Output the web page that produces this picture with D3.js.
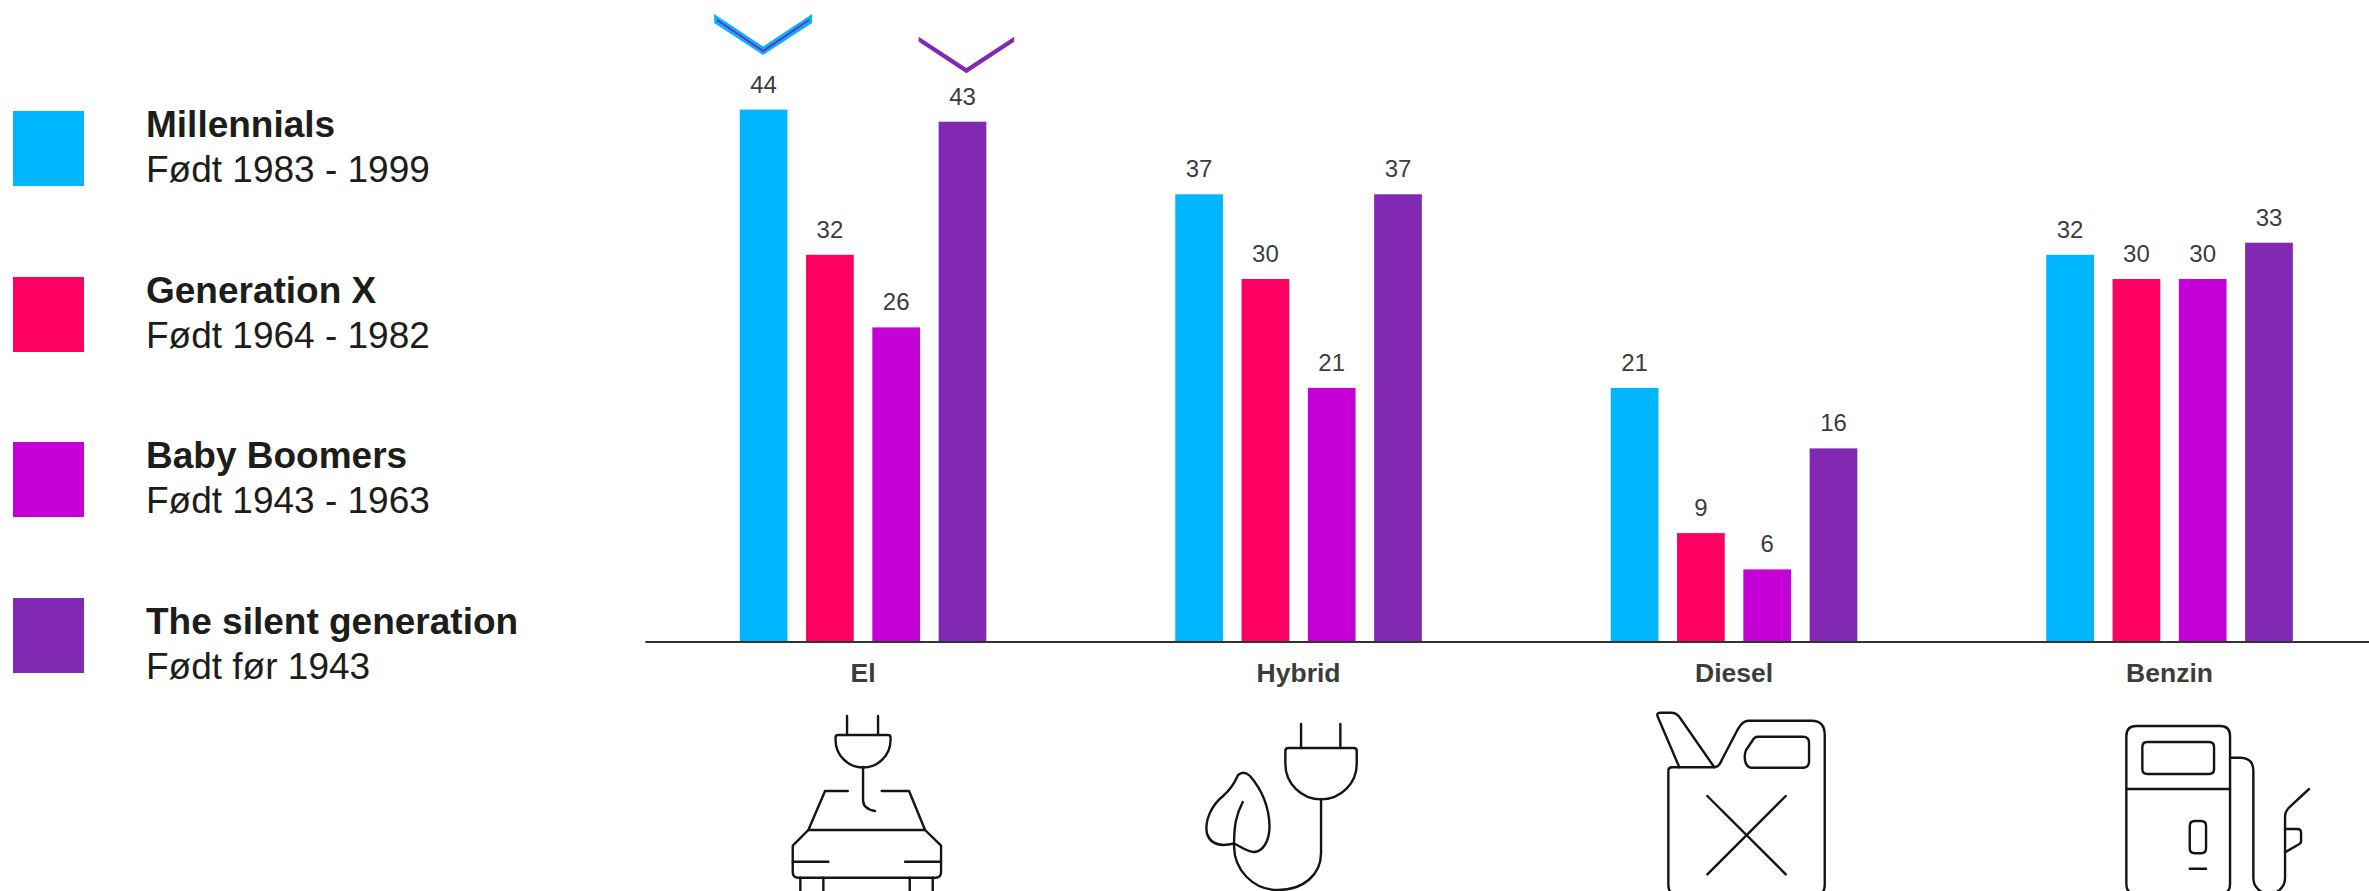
<!DOCTYPE html>
<html lang="da">
<head>
<meta charset="utf-8">
<title>Generationer og drivmidler</title>
<script src="https://cdnjs.cloudflare.com/ajax/libs/d3/7.9.0/d3.min.js"></script>
<style>
  html, body { margin: 0; padding: 0; background: #fff; overflow: hidden; }
  svg { display: block; font-family: "Liberation Sans", Arial, sans-serif; }
  .icon path, .icon rect { fill: none; stroke: #141414; stroke-width: 2.4; stroke-linecap: round; stroke-linejoin: round; }
</style>
</head>
<body>
<svg id="chart" width="2369" height="891"></svg>
<script>
// Fuel types along the axis and the four generations
const categories = ["El", "Hybrid", "Diesel", "Benzin"];
const generations = ["Millennials", "Generation X", "Baby Boomers", "The silent generation"];
const birthYears = ["Født 1983 - 1999", "Født 1964 - 1982", "Født 1943 - 1963", "Født før 1943"];
const colors = ["#00b6ff", "#ff0062", "#c400d6", "#8229b3"];

// Share per generation, one value per fuel type
const millennials = [44, 37, 21, 32];
const generationX = [32, 30, 9, 30];
const babyBoomers = [26, 21, 6, 30];
const silentGeneration = [43, 37, 16, 33];
const seriesValues = [millennials, generationX, babyBoomers, silentGeneration];

// Line pictograms, in local coordinates: x from the group centre, y down from the axis
const iconPaths = [
  ["M-16,74V93M15,74V93",
   "M-25,93H25q2.5,0 2.5,2.5V98A27.5,27.5 0 0 1 -27.5,98V95.5q0,-2.5 2.5,-2.5Z",
   "M0,125V158Q0,167 12,169",
   "M-15.3,149H-38L-54.7,188M18.7,149H46L62,188M-54.7,188H62",
   "M-54.7,188L-70.3,203.7V230q0,5.7 5.7,5.7H72.3q5.7,0 5.7,-5.7V203.7L62,188",
   "M-70.3,219.7H-34.7M42,219.7H78",
   "M-62.7,235.7V252M-39.7,235.7V252M46.7,235.7V252M69.7,235.7V252"],
  ["M2.5,82V106M41.8,82V106",
   "M-10.2,106H55.2q3,0 3,3V121.7A35.7,35.7 0 0 1 -13.2,121.7V109q0,-3 3,-3Z",
   "M22.5,157V211C22.5,233 4.5,248 -20.5,248C-45.5,248 -64.5,228 -64.5,204C-64.5,183 -62.5,173 -55.8,160",
   "M-60.5,133Q-54.5,128 -48.5,134C-36.5,148 -29.5,166 -29,184C-29,200 -36.5,210 -44.5,210C-51.5,210 -58.5,204 -64.5,201.5C-70.5,203 -86.5,206 -91.5,192C-94.5,178 -86.5,163 -75.5,154C-68.5,148 -63.5,140 -60.5,133Z"],
  ["M-54.7,125.3L-76.2,75Q-78,70.7 -74,70.7H-63Q-58,70.7 -55,74.5L-19.7,125.3",
   "M-58,252Q-65.7,252 -65.7,243V129q0,-3.7 3.7,-3.7H-20Q-15,125.3 -12.3,118L4.3,86.3Q9,78.7 14.3,78.7H77.7Q90.7,78.7 90.7,93V243Q90.7,252 83,252",
   "M17.7,99.7Q20,94.7 24,94.7H69Q75,94.7 75,101V119Q75,125.7 69,125.7H16.5Q10.7,124 10.7,115Q10.7,111 12,108Z",
   "M-26.7,154L51.7,232.3M51.7,154L-26.7,232.3"],
  ["M-33.2,84H50.5Q60.5,84 60.5,94V242Q60.5,252 50.5,252H-33.2Q-43.2,252 -43.2,242V94Q-43.2,84 -33.2,84Z",
   "M-22.2,100H39.5q5,0 5,5V127q0,5 -5,5H-22.2q-5,0 -5,-5V105q0,-5 5,-5Z",
   "M-43.2,147H60.5",
   "M25.2,179H31.5q5,0 5,5V206.3q0,5 -5,5H25.2q-5,0 -5,-5V184q0,-5 5,-5Z",
   "M20.2,226.7H36.5",
   "M60.5,115.7H70.5Q83.8,115.7 83.8,129V236A15.85,15.85 0 0 0 115.5,236V175Q115.5,169 120.5,164.7L139.5,147",
   "M115.5,187H127.8Q131.5,187 131.5,191V199Q131.5,201.3 129,202.5L115.5,210.3"]
];

const svg = d3.select("#chart");
const baseline = 642;

// Scales: one band per fuel type, a nested band per generation, linear height
const x0 = d3.scaleBand().domain(categories).range([645.3, 645.3 + 435.5 * 4]);
const x1 = d3.scaleBand().domain(d3.range(generations.length)).range([0, 246.6]).paddingInner(0.28);
const y = d3.scaleLinear().domain([0, 44]).range([baseline, baseline - 44 * 12.1]);
const barCentre = (c, s) => x0(categories[c]) + x0.bandwidth() / 2 - 123.3 + x1(s) + x1.bandwidth() / 2;

// Bars and their value labels
const groups = svg.selectAll("g.series").data(seriesValues).join("g").attr("class", "series");
groups.each(function (values, s) {
  const g = d3.select(this);
  g.selectAll("rect").data(values).join("rect")
    .attr("x", (d, c) => barCentre(c, s) - x1.bandwidth() / 2)
    .attr("y", d => y(d))
    .attr("width", x1.bandwidth())
    .attr("height", d => baseline - y(d))
    .attr("fill", colors[s]);
  g.selectAll("text").data(values).join("text")
    .attr("x", (d, c) => barCentre(c, s))
    .attr("y", d => y(d) - 17)
    .attr("text-anchor", "middle")
    .attr("font-size", 24)
    .attr("fill", "#3c3c3c")
    .text(d => d);
});

// Category axis
const axis = svg.append("g")
  .attr("transform", `translate(0,${baseline})`)
  .call(d3.axisBottom(x0).tickSize(0).tickPadding(21).offset(0));
axis.select(".domain").attr("stroke", "#333").attr("stroke-width", 2);
axis.selectAll("text")
  .attr("font-family", "'Liberation Sans', Arial, sans-serif")
  .attr("font-size", 26.5)
  .attr("font-weight", 700)
  .attr("fill", "#3c3c3c");

// Pictogram under each category
svg.selectAll("g.icon").data(iconPaths).join("g")
  .attr("class", "icon")
  .attr("transform", (d, i) => `translate(${x0(categories[i]) + x0.bandwidth() / 2},${baseline})`)
  .selectAll("path").data(d => d).join("path")
  .attr("d", d => d);

// Chevron markers over the El bars
const marker = d3.line();
const markerGroup = svg.append("g");
markerGroup.append("path")
  .attr("transform", `translate(${barCentre(0, 0)},0)`)
  .attr("d", marker([[-49.5, 14], [-0.5, 46.5], [48.5, 14], [48.5, 23], [-0.5, 55], [-49.5, 23]]) + "Z")
  .attr("fill", colors[0]);
markerGroup.append("path")
  .attr("transform", `translate(${barCentre(0, 0)},0)`)
  .attr("d", marker([[-46.5, 20], [-0.5, 51], [45.5, 20]]))
  .attr("fill", "none").attr("stroke", colors[3]).attr("stroke-width", 2);
markerGroup.append("path")
  .attr("transform", `translate(${barCentre(0, 3)},0)`)
  .attr("d", marker([[-43.8, 36.7], [3.9, 68], [51.7, 36.7], [51.7, 41.7], [3.9, 73.3], [-43.8, 41.7]]) + "Z")
  .attr("fill", colors[3]);

// Legend, stacked at the left edge
const legendTops = [111, 277, 442, 598];
const legendTextShift = [0, 0, 0, 10.5];
const legend = svg.selectAll("g.legend").data(generations).join("g")
  .attr("class", "legend")
  .attr("transform", (d, i) => `translate(13,${legendTops[i]})`);
legend.append("rect")
  .attr("width", 71).attr("height", 75)
  .attr("fill", (d, i) => colors[i]);
legend.append("text")
  .attr("x", 133).attr("y", (d, i) => 25.7 + legendTextShift[i])
  .attr("font-size", 37).attr("font-weight", 700).attr("fill", "#1d1d1b")
  .text(d => d);
legend.append("text")
  .attr("x", 133).attr("y", (d, i) => 70.5 + legendTextShift[i])
  .attr("font-size", 37).attr("fill", "#1d1d1b")
  .text((d, i) => birthYears[i]);
</script>
</body>
</html>
